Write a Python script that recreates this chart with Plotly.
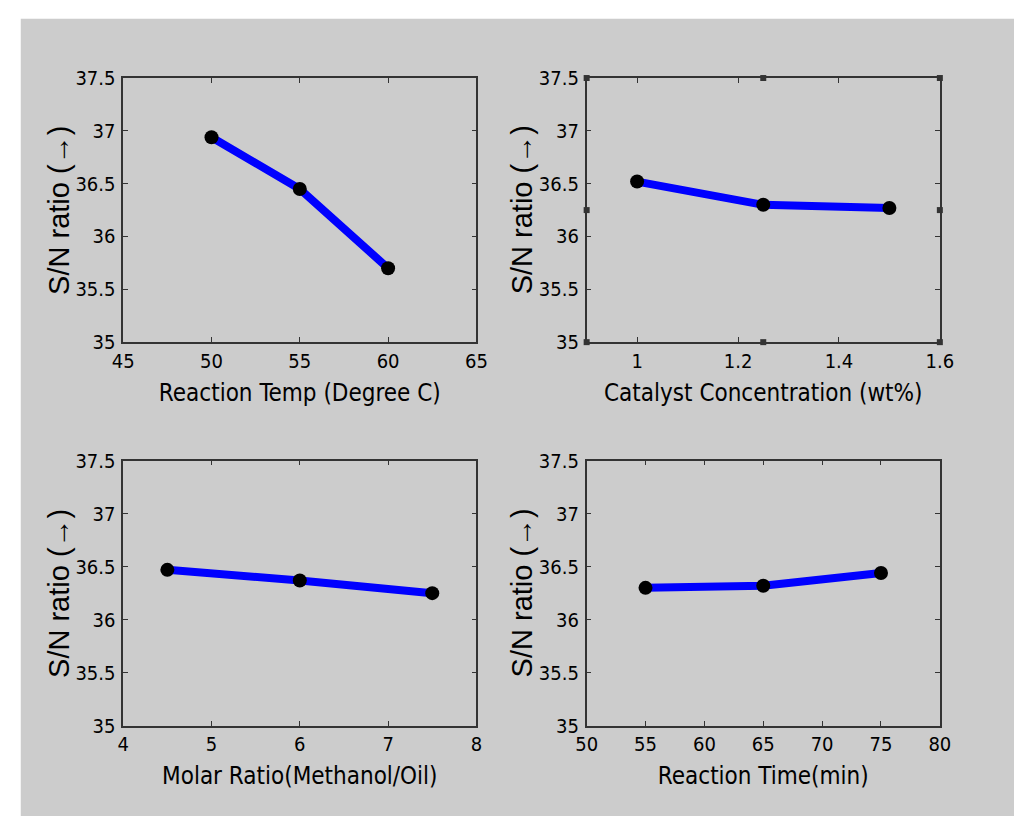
import plotly.graph_objects as go

# ---- data ----
temp_x = [50, 55, 60]
temp_y = [36.94, 36.45, 35.70]
cat_x = [1.0, 1.25, 1.5]
cat_y = [36.52, 36.30, 36.27]
molar_x = [4.5, 6.0, 7.5]
molar_y = [36.47, 36.37, 36.25]
time_x = [55, 65, 75]
time_y = [36.30, 36.32, 36.44]

x_titles = ["Reaction Temp (Degree C)", "Catalyst Concentration (wt%)",
            "Molar Ratio(Methanol/Oil)", "Reaction Time(min)"]
y_title = "S/N ratio (\u2192)"
x_ranges = [[45, 65], [0.9, 1.6], [4, 8], [50, 80]]
x_dticks = [5, 0.2, 1, 5]
y_range = [35, 37.5]
y_ticks = [35, 35.5, 36, 36.5, 37, 37.5]

W, H = 1028, 828
fig = go.Figure()

domains_x = [[115 / W, 477 / W], [590 / W, 952 / W], [115 / W, 477 / W], [590 / W, 952 / W]]
domains_y = [[1 - 340 / H, 1 - 68 / H], [1 - 340 / H, 1 - 68 / H],
             [1 - 735 / H, 1 - 462 / H], [1 - 735 / H, 1 - 462 / H]]

series = [(temp_x, temp_y), (cat_x, cat_y), (molar_x, molar_y), (time_x, time_y)]

narrow = "DejaVu Sans Condensed, Liberation Sans Narrow, Arial Narrow, Liberation Sans, sans-serif"
tick_font = dict(family=narrow, size=20, color="black")
xtitle_font = dict(family=narrow, size=24, color="black")
ytitle_font = dict(family="Liberation Sans, Arial, sans-serif", size=29, color="black")

annotations = []
for i, (xs, ys) in enumerate(series):
    n = "" if i == 0 else str(i + 1)
    fig.add_trace(go.Scatter(
        x=xs, y=ys, mode="lines+markers",
        line=dict(color="#0000ff", width=8),
        marker=dict(color="black", size=14, symbol="circle"),
        xaxis="x" + n, yaxis="y" + n, showlegend=False, cliponaxis=False,
    ))
    fig.layout["xaxis" + n] = dict(
        domain=domains_x[i], range=x_ranges[i], dtick=x_dticks[i], tick0=0,
        anchor="y" + n, showgrid=False, zeroline=False,
        showline=True, linecolor="#333333", linewidth=1.5, mirror="ticks",
        ticks="inside", ticklen=5, tickcolor="#333333", tickwidth=1,
        tickfont=tick_font, title=dict(text=x_titles[i], font=xtitle_font, standoff=12),
    )
    fig.layout["yaxis" + n] = dict(
        domain=domains_y[i], range=y_range, tickvals=y_ticks,
        ticktext=[("%g" % v) for v in y_ticks],
        anchor="x" + n, showgrid=False, zeroline=False,
        showline=True, linecolor="#333333", linewidth=1.5, mirror="ticks",
        ticks="inside", ticklen=5, tickcolor="#333333", tickwidth=1,
        tickfont=tick_font, ticklabelstandoff=2,
    )
    annotations.append(dict(
        text=y_title, textangle=-90, showarrow=False, font=ytitle_font,
        xref="paper", yref="paper",
        x=domains_x[i][0] - 66 / W, y=(domains_y[i][0] + domains_y[i][1]) / 2,
        xanchor="center", yanchor="middle",
    ))

# selection handles around the catalyst subplot (derived from its axis ranges)
cx0, cx1 = x_ranges[1]
cy0, cy1 = y_range
hx = [cx0, (cx0 + cx1) / 2, cx1, cx0, cx1, cx0, (cx0 + cx1) / 2, cx1]
hy = [cy1, cy1, cy1, (cy0 + cy1) / 2, (cy0 + cy1) / 2, cy0, cy0, cy0]
fig.add_trace(go.Scatter(
    x=hx, y=hy, mode="markers", xaxis="x2", yaxis="y2", showlegend=False,
    marker=dict(symbol="square", size=6, color="#333333"), cliponaxis=False,
))

fig.update_layout(
    width=W, height=H, margin=dict(l=0, r=0, t=0, b=0),
    paper_bgcolor="white", plot_bgcolor="white",
    annotations=annotations,
    shapes=[dict(type="rect", xref="paper", yref="paper",
                 x0=10 / W, x1=1, y0=0, y1=1 - 7 / H,
                 fillcolor="#cccccc", line=dict(width=0), layer="below")],
)

fig.write_html(
    "out.html",
    post_script="document.body.style.margin='0';document.body.style.overflow='hidden';",
)
